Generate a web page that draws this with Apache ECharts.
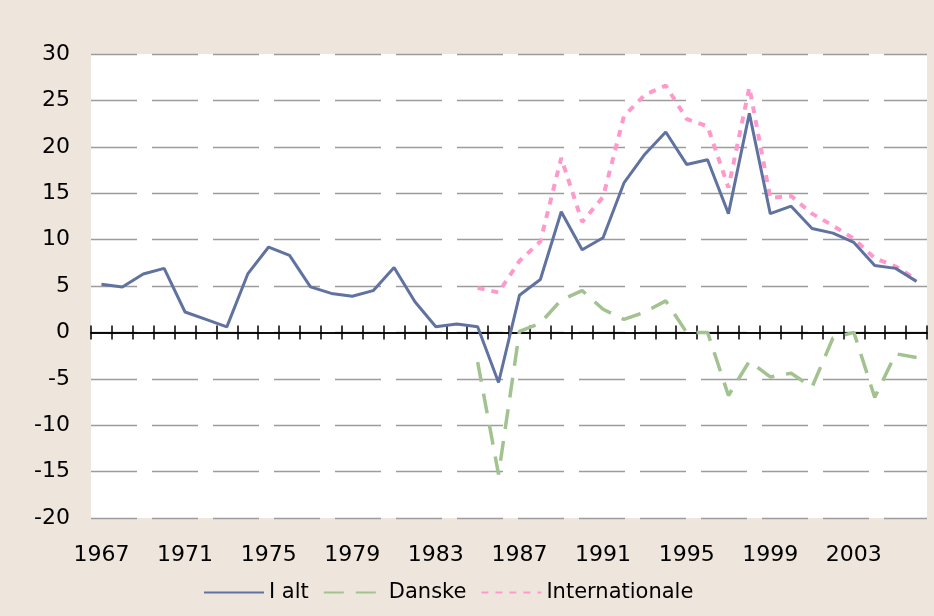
<!DOCTYPE html>
<html>
<head>
<meta charset="utf-8">
<script src="https://cdn.jsdelivr.net/npm/echarts@6/dist/echarts.min.js"></script>
<style>
  html, body { margin: 0; padding: 0; background: #eee6dd; }
  #chart { width: 934px; height: 616px; }
</style>
</head>
<body>
<div id="chart"></div>
<script>
// år 1967-2006
var years = [];
for (var y = 1967; y <= 2006; y++) years.push(String(y));

var iAlt = [5.2, 4.9, 6.3, 6.9, 2.2, 1.4, 0.6, 6.3, 9.2, 8.3,
            4.9, 4.2, 3.9, 4.5, 7.0, 3.3, 0.6, 0.9, 0.6, -5.4,
            4.0, 5.7, 13.0, 8.9, 10.2, 16.1, 19.2, 21.6, 18.1, 18.6,
            12.8, 23.6, 12.8, 13.6, 11.2, 10.7, 9.7, 7.2, 6.9, 5.5];

var danske = [null, null, null, null, null, null, null, null, null, null,
              null, null, null, null, null, null, null, null, -3.2, -15.3,
              0.1, 1.0, 3.5, 4.5, 2.5, 1.4, 2.2, 3.4, 0.0, 0.0,
              -6.8, -3.1, -4.8, -4.4, -5.9, -0.6, 0.0, -7.0, -2.3, -2.7];

var internationale = [null, null, null, null, null, null, null, null, null, null,
                      null, null, null, null, null, null, null, null, 4.8, 4.3,
                      7.7, 9.8, 18.8, 11.9, 14.6, 23.3, 25.6, 26.6, 23.0, 22.2,
                      15.6, 26.4, 14.5, 14.7, 12.8, 11.5, 10.1, 8.0, 7.1, 5.7];

var yMin = -20, yMax = 30, yStep = 5;

var font = 'DejaVu Sans';
var myChart = echarts.init(document.getElementById('chart'));

var yBase = { type: 'value', min: yMin, max: yMax, interval: yStep };

var option = {
  backgroundColor: '#eee6dd',
  animation: false,
  grid: {
    left: 91, right: 7, top: 54, bottom: 98,
    show: true, backgroundColor: '#ffffff', borderWidth: 0
  },
  legend: {
    bottom: 8,
    left: 198,
    data: ['I alt', 'Danske', 'Internationale'],
    itemWidth: 60,
    itemHeight: 14,
    itemGap: 14,
    itemStyle: { opacity: 0 }, // kun linjen, ingen cirkel
    textStyle: { fontFamily: font, fontSize: 21, color: '#000' }
  },
  xAxis: [
    {
      // årstal langs bunden
      type: 'category',
      data: years,
      position: 'bottom',
      axisLine: { show: false, onZero: false },
      axisTick: { show: false },
      splitLine: { show: false },
      axisLabel: {
        interval: 3,
        margin: 26,
        fontFamily: font,
        fontSize: 22,
        color: '#000'
      }
    },
    {
      // nul-linje, ticks nedad
      type: 'category',
      data: years,
      position: 'bottom',
      axisLine: { show: true, onZero: true, onZeroAxisIndex: 0, lineStyle: { color: '#000', width: 1.5 } },
      axisTick: { show: true, interval: 0, inside: false, length: 7, lineStyle: { color: '#000', width: 1.5 } },
      axisLabel: { show: false },
      splitLine: { show: false }
    },
    {
      // nul-linje, ticks opad
      type: 'category',
      data: years,
      position: 'bottom',
      axisLine: { show: true, onZero: true, onZeroAxisIndex: 1, lineStyle: { color: '#000', width: 1.5 } },
      axisTick: { show: true, interval: 0, inside: true, length: 7, lineStyle: { color: '#000', width: 1.5 } },
      axisLabel: { show: false },
      splitLine: { show: false }
    }
  ],
  yAxis: [
    Object.assign({}, yBase, {
      axisLine: { show: false, onZero: false },
      axisTick: { show: false },
      axisLabel: {
        margin: 21,
        fontFamily: font,
        fontSize: 22,
        color: '#000'
      },
      splitLine: {
        show: true,
        lineStyle: { color: '#9c9c9c', width: 1.4, type: [46, 15], dashOffset: 0 }
      }
    }),
    Object.assign({}, yBase, {
      show: false,
      axisLine: { show: false, onZero: false },
      splitLine: { show: false }
    })
  ],
  series: [
    {
      name: 'Danske',
      type: 'line',
      data: danske,
      symbol: 'none',
      lineStyle: { color: '#a2c290', width: 3.5, type: [20, 12] },
      itemStyle: { color: '#a2c290' },
      z: 2
    },
    {
      name: 'Internationale',
      type: 'line',
      data: internationale,
      symbol: 'none',
      lineStyle: { color: '#ff99cc', width: 4, type: [7, 7] },
      itemStyle: { color: '#ff99cc' },
      z: 3
    },
    {
      name: 'I alt',
      type: 'line',
      data: iAlt,
      symbol: 'none',
      lineStyle: { color: '#6072a0', width: 3 },
      itemStyle: { color: '#6072a0' },
      z: 4
    }
  ]
};

myChart.setOption(option);
</script>
</body>
</html>
